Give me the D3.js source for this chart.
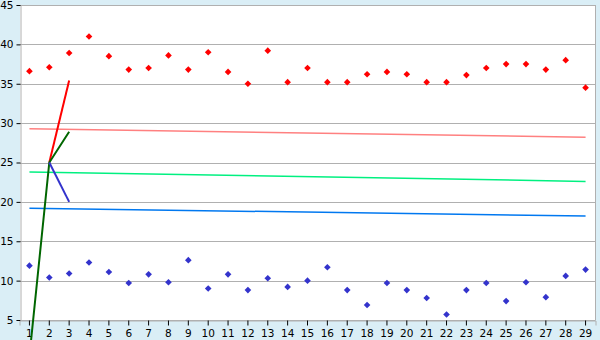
<!DOCTYPE html>
<html>
<head>
<meta charset="utf-8">
<script src="https://cdn.jsdelivr.net/npm/d3@7"></script>
<style>
body { margin: 0; background: #daeef6; }
svg { display: block; }
</style>
</head>
<body>
<script>
//category labels along the bottom
var days = d3.range(1, 30);

//upper and lower scatter series
var highValues = [36.6, 37.1, 38.9, 41.0, 38.5, 36.8, 37.0, 38.6, 36.8, 39.0,
    36.5, 35.0, 39.2, 35.2, 37.0, 35.2, 35.2, 36.2, 36.5, 36.2,
    35.2, 35.2, 36.1, 37.0, 37.5, 37.5, 36.8, 38.0, 34.5];
var lowValues = [11.9, 10.4, 10.9, 12.3, 11.1, 9.7, 10.8, 9.8, 12.6, 9.0,
    10.8, 8.8, 10.3, 9.2, 10.0, 11.7, 8.8, 6.9, 9.7, 8.8,
    7.8, 5.7, 8.8, 9.7, 7.4, 9.8, 7.9, 10.6, 11.4];

//trend lines, value at first and last day
var trendDays = [1, 29];
var redTrend = [29.3, 28.2];
var greenTrend = [23.8, 22.6];
var blueTrend = [19.2, 18.2];

//short lines over the first three days
var shortDays = [1, 2, 3];
var greenShort = [0.4, 25, 28.9];
var redShort = [null, 25, 35.4];
var blueShort = [null, 25, 20.0];

var yTicks = [5, 10, 15, 20, 25, 30, 35, 40, 45];

var width = 600,
    height = 340;

var svg = d3.select("body")
    .append("svg")
    .attr("width", width)
    .attr("height", height);

var x = d3.scaleBand()
    .domain(days)
    .range([19.5, 595.5])
    .padding(0);

var y = d3.scaleLinear()
    .domain([5, 45])
    .range([320, 5]);

function cx(d){ return x(d) + x.bandwidth() / 2; }

//plot background
svg.append("rect")
    .attr("x", 20)
    .attr("y", y(45))
    .attr("width", 575.5)
    .attr("height", y(5) - y(45))
    .attr("fill", "#fff");

//horizontal grid
svg.selectAll(".grid")
    .data(yTicks)
    .enter()
    .append("line")
    .attr("class", "grid")
    .attr("x1", 20)
    .attr("x2", 595.5)
    .attr("y1", function(d){ return Math.round(y(d)) + 0.5; })
    .attr("y2", function(d){ return Math.round(y(d)) + 0.5; })
    .attr("stroke", "#b0b0b0");

//right border
svg.append("line")
    .attr("x1", 595.5).attr("x2", 595.5)
    .attr("y1", y(45)).attr("y2", y(5))
    .attr("stroke", "#b0b0b0");

//y axis
var yAxis = svg.append("g")
    .attr("transform", "translate(20.5,0)")
    .call(d3.axisLeft(y).tickValues(yTicks).tickSize(4).tickPadding(3));

//x axis
var xAxis = svg.append("g")
    .attr("transform", "translate(0," + (Math.round(y(5)) + 0.5) + ")")
    .call(d3.axisBottom(x).tickSize(5).tickPadding(4));

[yAxis, xAxis].forEach(function(ax){
    ax.select(".domain").attr("stroke", "#b0b0b0");
    ax.selectAll(".tick line").attr("stroke", "#000");
    ax.selectAll("text")
        .attr("fill", "#000")
        .style("font-family", "DejaVu Sans, Verdana, sans-serif")
        .style("font-size", "10.5px");
});

//trend lines
var trendLine = d3.line()
    .x(function(d){ return cx(d[0]); })
    .y(function(d){ return y(d[1]); });

[[redTrend, "#ff8080"], [greenTrend, "#00f080"], [blueTrend, "#0078f0"]].forEach(function(t){
    svg.append("path")
        .datum(d3.zip(trendDays, t[0]))
        .attr("d", trendLine)
        .attr("fill", "none")
        .attr("stroke", t[1])
        .attr("stroke-width", 1.5);
});

//short lines
var shortLine = d3.line()
    .defined(function(d){ return d[1] != null; })
    .x(function(d){ return cx(d[0]); })
    .y(function(d){ return y(d[1]); });

[[redShort, "#ff0000"], [greenShort, "#006600"], [blueShort, "#3333cc"]].forEach(function(t){
    svg.append("path")
        .datum(d3.zip(shortDays, t[0]))
        .attr("d", shortLine)
        .attr("fill", "none")
        .attr("stroke", t[1])
        .attr("stroke-width", 2);
});

//scatter markers
var marker = d3.symbol().type(d3.symbolSquare).size(22);

[[highValues, "#ff0000"], [lowValues, "#3333cc"]].forEach(function(s){
    svg.selectAll(null)
        .data(d3.zip(days, s[0]))
        .enter()
        .append("path")
        .attr("d", marker)
        .attr("transform", function(d){
            return "translate(" + cx(d[0]) + "," + y(d[1]) + ") rotate(45)";
        })
        .attr("fill", s[1]);
});
</script>
</body>
</html>
